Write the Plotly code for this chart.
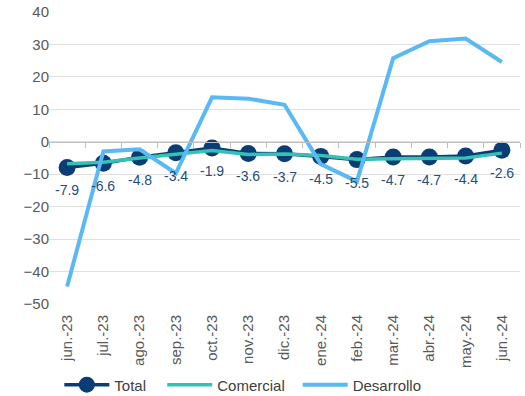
import plotly.graph_objects as go

meses = ["jun.-23", "jul.-23", "ago.-23", "sep.-23", "oct.-23", "nov.-23", "dic.-23",
         "ene.-24", "feb.-24", "mar.-24", "abr.-24", "may.-24", "jun.-24"]
total = [-7.9, -6.6, -4.8, -3.4, -1.9, -3.6, -3.7, -4.5, -5.5, -4.7, -4.7, -4.4, -2.6]
comercial = [-6.8, -6.3, -5.0, -3.8, -2.7, -3.9, -3.8, -4.2, -5.4, -5.2, -5.1, -5.0, -3.5]
desarrollo = [-44.6, -3.0, -2.3, -9.7, 13.7, 13.3, 11.4, -6.9, -12.2, 25.8, 31.0, 31.8, 24.6]

y_min, y_max = -50, 40
font = "Liberation Sans, Arial, sans-serif"

fig = go.Figure()
fig.add_trace(go.Scatter(
    x=meses, y=total, name="Total", mode="lines+markers", legend="legend",
    line=dict(color="#0a3d75", width=3.5),
    marker=dict(size=17, color="#0a3d75"),
))
fig.add_trace(go.Scatter(
    x=meses, y=comercial, name="Comercial", mode="lines", legend="legend2",
    line=dict(color="#35c2b4", width=3.5),
))
fig.add_trace(go.Scatter(
    x=meses, y=desarrollo, name="Desarrollo", mode="lines", legend="legend3",
    line=dict(color="#5ab8f4", width=4),
))
# helper trace so the zero-level axis exists
fig.add_trace(go.Scatter(x=meses, y=[None] * len(meses), xaxis="x2",
                         showlegend=False, hoverinfo="skip"))

# value labels beneath the Total markers
for m, v in zip(meses, total):
    fig.add_annotation(x=m, y=v, text=f"{v:.1f}", showarrow=False,
                       yshift=-23, font=dict(color="#1f4e79", size=14, family=font))

zero_pos = (0 - y_min) / (y_max - y_min)
cat_range = [-0.5, len(meses) - 0.5]


def legend_at(x):
    return dict(orientation="h", xref="container", yref="container",
                x=x, xanchor="left", y=0.028, yanchor="middle", itemwidth=45,
                font=dict(size=15, color="#404040"), bgcolor="rgba(0,0,0,0)")


fig.update_layout(
    width=525, height=396,
    margin=dict(l=49, r=5, t=12, b=92, autoexpand=False),
    paper_bgcolor="white", plot_bgcolor="white",
    font=dict(family=font, color="#595959", size=13),
    showlegend=True,
    legend=legend_at(0.113),
    legend2=legend_at(0.309),
    legend3=legend_at(0.567),
    xaxis=dict(type="category", range=cat_range, showgrid=False, tickangle=-90, ticks="",
               showline=False, zeroline=False, automargin=False,
               ticklabelstandoff=7, tickfont=dict(size=15, color="#595959")),
    xaxis2=dict(type="category", overlaying="x", anchor="free", position=zero_pos,
                range=cat_range, showticklabels=False, showline=True,
                linecolor="#bfbfbf", linewidth=1, ticks="outside",
                tickson="boundaries", ticklen=5, tickcolor="#bfbfbf",
                showgrid=False, zeroline=False),
    yaxis=dict(range=[y_min, y_max], dtick=10, showgrid=True, gridcolor="#e0e0e0",
               zeroline=False, showline=False, ticks="", automargin=False,
               ticklabelstandoff=-1, tickfont=dict(size=15, color="#595959")),
)

fig.write_html("out.html")
